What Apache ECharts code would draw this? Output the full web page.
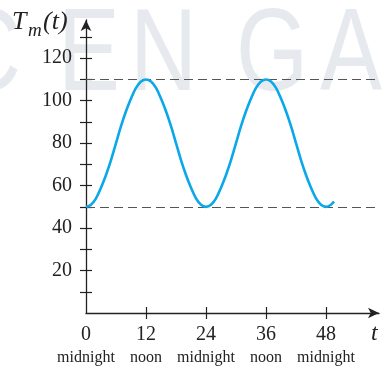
<!DOCTYPE html>
<html>
<head>
<meta charset="utf-8">
<script src="https://cdn.jsdelivr.net/npm/echarts@6/dist/echarts.min.js"></script>
<style>
html,body{margin:0;padding:0;background:#fff;}
#chart{width:385px;height:370px;}
</style>
</head>
<body>
<div id="chart"></div>
<script>
// Data
const hours = [0,1,2,3,4,5,6,7,8,9,10,11,12,13,14,15,16,17,18,19,20,21,22,23,24,25,26,27,28,29,30,31,32,33,34,35,36,37,38,39,40,41,42,43,44,45,46,47,48,49,49.6];
const temps = [50,51,54,59,65,72,80,88,95,101,106,109,110,109,106,101,95,88,80,72,65,59,54,51,50,51,54,59,65,72,80,88,95,101,106,109,110,109,106,101,95,88,80,72,65,59,54,51,50,51,52.5];
const xTickValues = [0,12,24,36,48];
const xTickNames = ['midnight','noon','midnight','noon','midnight'];
const yTickValues = [10,20,30,40,50,60,70,80,90,100,110,120,130];
const yLabelValues = [20,40,60,80,100,120];
const guideLevels = [110,50];

const chart = echarts.init(document.getElementById('chart'));
const serif = 'Liberation Serif';
const ink = '#222';

const xNames = {};
xTickValues.forEach((v,i)=>{ xNames[v] = xTickNames[i]; });

const commonX = {
  type:'value', min:0, max:58.6, position:'bottom'
};
const commonY = {
  type:'value', min:0, max:138, position:'left'
};
const wm = '400 116px "Liberation Sans", sans-serif';
const wmColor = '#e6e9ee';

chart.setOption({
  animation:false,
  textStyle:{fontFamily:serif},
  grid:{left:86, right:6, top:20, bottom:57},
  xAxis:[
    Object.assign({}, commonX, {
      axisLine:{show:true, onZero:false, symbol:['none','arrow'], symbolSize:[8,11], lineStyle:{color:ink, width:1.3}},
      axisTick:{show:true, length:6, customValues:[12,24,36,48], lineStyle:{color:ink, width:1.2}},
      splitLine:{show:false},
      axisLabel:{
        customValues:xTickValues, margin:10, fontFamily:serif, color:ink,
        formatter:(v)=>'{a|'+v+'}\n{b|'+(xNames[v]||'')+'}',
        rich:{
          a:{fontFamily:serif, fontSize:20, color:ink, lineHeight:24},
          b:{fontFamily:serif, fontSize:16, color:ink, lineHeight:22}
        }
      }
    }),
    Object.assign({}, commonX, {
      axisLine:{show:false},
      axisTick:{show:true, inside:true, length:6, customValues:[12,24,36,48], lineStyle:{color:ink, width:1.2}},
      axisLabel:{show:false}, splitLine:{show:false}
    })
  ],
  yAxis:[
    Object.assign({}, commonY, {
      axisLine:{show:true, onZero:false, symbol:['none','arrow'], symbolSize:[8,11], lineStyle:{color:ink, width:1.3}},
      axisTick:{show:true, length:6, customValues:yTickValues, lineStyle:{color:ink, width:1.2}},
      splitLine:{show:false},
      axisLabel:{customValues:yLabelValues, margin:14, fontFamily:serif, fontSize:20, color:ink}
    }),
    Object.assign({}, commonY, {
      axisLine:{show:false},
      axisTick:{show:true, inside:true, length:6, customValues:yTickValues, lineStyle:{color:ink, width:1.2}},
      axisLabel:{show:false}, splitLine:{show:false}
    })
  ],
  series:[{
    type:'line',
    data:hours.map((h,i)=>[h,temps[i]]),
    showSymbol:false,
    smooth:0.35,
    lineStyle:{color:'#0aa8e8', width:2.6},
    z:5,
    markLine:{
      silent:true, symbol:['none','none'],
      label:{show:false},
      lineStyle:{color:'#555', type:[9,5], width:1.1},
      data:guideLevels.map(v=>({yAxis:v}))
    }
  }],
  graphic:[
    {type:'text', z:-100, x:-46, y:0, scaleX:0.8, style:{text:'C', font:wm, fill:wmColor}},
    {type:'text', z:-100, x:58, y:0, scaleX:0.8, style:{text:'E', font:wm, fill:wmColor}},
    {type:'text', z:-100, x:130, y:0, scaleX:0.8, style:{text:'N', font:wm, fill:wmColor}},
    {type:'text', z:-100, x:236, y:0, scaleX:0.8, style:{text:'G', font:wm, fill:wmColor}},
    {type:'text', z:-100, x:320, y:0, scaleX:0.8, style:{text:'A', font:wm, fill:wmColor}},
    {type:'text', z:50, x:12, y:22, style:{text:'T', font:'italic 26px "Liberation Serif"', fill:ink, verticalAlign:'middle'}},
    {type:'text', z:50, x:28, y:31, style:{text:'m', font:'italic 19px "Liberation Serif"', fill:ink, verticalAlign:'middle'}},
    {type:'text', z:50, x:43, y:22, style:{text:'(t)', font:'italic 26px "Liberation Serif"', fill:ink, verticalAlign:'middle'}},
    {type:'text', z:50, x:371, y:334, style:{text:'t', font:'italic 24px "Liberation Serif"', fill:ink, verticalAlign:'middle'}}
  ]
});
</script>
</body>
</html>
